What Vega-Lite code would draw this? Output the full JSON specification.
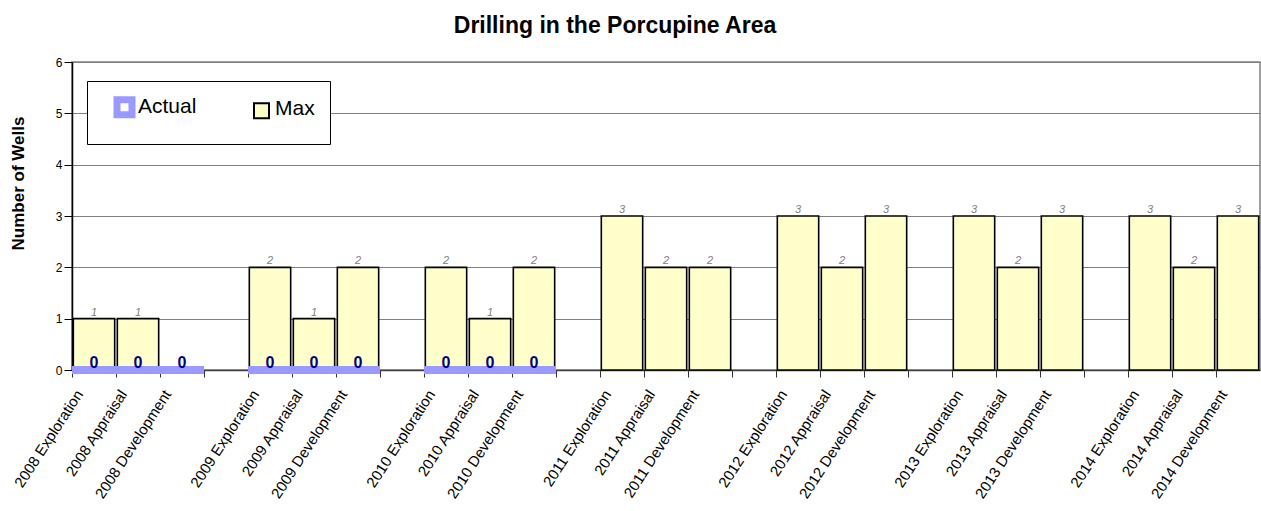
{
  "$schema": "https://vega.github.io/schema/vega-lite/v6.json",
  "width": 1188,
  "height": 308,
  "autosize": {"type": "none"},
  "padding": {"left": 72, "top": 62, "right": 1, "bottom": 141},
  "background": "white",
  "title": {
    "text": "Drilling in the Porcupine Area",
    "font": "Liberation Sans",
    "fontSize": 23,
    "fontWeight": "bold",
    "color": "#000000",
    "frame": "group",
    "anchor": "middle",
    "baseline": "alphabetic",
    "dx": -51,
    "offset": 0
  },
  "data": {
    "values": [
      {"cat": "2008 Exploration", "series": "Max", "value": 1},
      {"cat": "2008 Appraisal", "series": "Max", "value": 1},
      {"cat": "2009 Exploration", "series": "Max", "value": 2},
      {"cat": "2009 Appraisal", "series": "Max", "value": 1},
      {"cat": "2009 Development", "series": "Max", "value": 2},
      {"cat": "2010 Exploration", "series": "Max", "value": 2},
      {"cat": "2010 Appraisal", "series": "Max", "value": 1},
      {"cat": "2010 Development", "series": "Max", "value": 2},
      {"cat": "2011 Exploration", "series": "Max", "value": 3},
      {"cat": "2011 Appraisal", "series": "Max", "value": 2},
      {"cat": "2011 Development", "series": "Max", "value": 2},
      {"cat": "2012 Exploration", "series": "Max", "value": 3},
      {"cat": "2012 Appraisal", "series": "Max", "value": 2},
      {"cat": "2012 Development", "series": "Max", "value": 3},
      {"cat": "2013 Exploration", "series": "Max", "value": 3},
      {"cat": "2013 Appraisal", "series": "Max", "value": 2},
      {"cat": "2013 Development", "series": "Max", "value": 3},
      {"cat": "2014 Exploration", "series": "Max", "value": 3},
      {"cat": "2014 Appraisal", "series": "Max", "value": 2},
      {"cat": "2014 Development", "series": "Max", "value": 3},
      {"cat": "2008 Exploration", "series": "Actual", "value": 0},
      {"cat": "2008 Appraisal", "series": "Actual", "value": 0},
      {"cat": "2008 Development", "series": "Actual", "value": 0},
      {"cat": "2009 Exploration", "series": "Actual", "value": 0},
      {"cat": "2009 Appraisal", "series": "Actual", "value": 0},
      {"cat": "2009 Development", "series": "Actual", "value": 0},
      {"cat": "2010 Exploration", "series": "Actual", "value": 0},
      {"cat": "2010 Appraisal", "series": "Actual", "value": 0},
      {"cat": "2010 Development", "series": "Actual", "value": 0}
    ]
  },
  "encoding": {
    "x": {
      "field": "cat",
      "type": "nominal",
      "scale": {
        "domain": [
          "2008 Exploration", "2008 Appraisal", "2008 Development", "g1",
          "2009 Exploration", "2009 Appraisal", "2009 Development", "g2",
          "2010 Exploration", "2010 Appraisal", "2010 Development", "g3",
          "2011 Exploration", "2011 Appraisal", "2011 Development", "g4",
          "2012 Exploration", "2012 Appraisal", "2012 Development", "g5",
          "2013 Exploration", "2013 Appraisal", "2013 Development", "g6",
          "2014 Exploration", "2014 Appraisal", "2014 Development"
        ],
        "paddingInner": 0.06,
        "paddingOuter": 0.03
      },
      "axis": {
        "title": null,
        "bandPosition": 0,
        "tickOffset": -1,
        "labelOffset": -14,
        "labelExpr": "indexof(datum.label, 'g') === 0 ? '' : datum.label",
        "labelAngle": -57,
        "labelAlign": "right",
        "labelBaseline": "middle",
        "labelFont": "Liberation Sans",
        "labelFontSize": 15,
        "labelColor": "#000000",
        "labelPadding": 14,
        "labelOverlap": false,
        "labelLimit": 300,
        "tickSize": 7,
        "tickColor": "#333333",
        "domainColor": "#404040",
        "domainWidth": 1.5,
        "grid": false
      }
    },
    "y": {
      "field": "value",
      "type": "quantitative",
      "scale": {"domain": [0, 6], "nice": false},
      "axis": {
        "title": "Number of Wells",
        "titleFont": "Liberation Sans",
        "titleFontSize": 17,
        "titleFontWeight": "bold",
        "titleColor": "#000000",
        "titleX": -49,
        "titleY": 121,
        "titleBaseline": "alphabetic",
        "values": [0, 1, 2, 3, 4, 5, 6],
        "labelFont": "Liberation Sans",
        "labelFontSize": 12,
        "labelColor": "#000000",
        "labelPadding": 2,
        "tickSize": 8,
        "tickColor": "#000000",
        "domainColor": "#000000",
        "domainWidth": 1.5,
        "grid": true,
        "gridColor": "#808080",
        "gridWidth": 1
      }
    }
  },
  "layer": [
    {
      "transform": [{"filter": "datum.series === 'Max'"}],
      "mark": {"type": "bar", "stroke": "#000000", "strokeWidth": 1.6},
      "encoding": {
        "fill": {
          "field": "series",
          "type": "nominal",
          "scale": {"domain": ["Actual", "Max"], "range": ["#FFFFFF", "#FFFFCC"]},
          "legend": {
            "title": null,
            "orient": "none",
            "direction": "horizontal",
            "gridAlign": "all",
            "legendX": 15,
            "legendY": 19,
            "padding": 15,
            "strokeColor": "#000000",
            "fillColor": "#FFFFFF",
            "labelFont": "Liberation Sans",
            "labelFontSize": 21,
            "labelColor": "#000000",
            "symbolOffset": 12,
            "labelOffset": 3,
            "columnPadding": 42,
            "symbolType": "square",
            "symbolSize": 225,
            "encoding": {
              "symbols": {
                "y": {"value": {"expr": "(datum.value === 'Max' ? 8 : 11)"}},
                "stroke": {"value": {"expr": "(datum.value === 'Actual' ? '#9999FF' : '#000000')"}},
                "strokeWidth": {"value": {"expr": "(datum.value === 'Actual' ? 7 : 2)"}}
              },
              "labels": {
                "y": {"value": {"expr": "(datum.value === 'Max' ? 6 : 11)"}}
              }
            }
          }
        }
      }
    },
    {
      "transform": [{"filter": "datum.series === 'Max'"}],
      "mark": {
        "type": "text",
        "baseline": "alphabetic",
        "dy": -3,
        "font": "Liberation Sans",
        "fontSize": 11,
        "fontStyle": "italic",
        "color": "#808080"
      },
      "encoding": {"text": {"field": "value", "type": "quantitative"}}
    },
    {
      "transform": [{"filter": "datum.series === 'Actual'"}],
      "mark": {"type": "tick", "thickness": 8, "size": 44, "opacity": 1, "color": "#9999FF"},
      "encoding": {}
    },
    {
      "transform": [{"filter": "datum.series === 'Actual'"}],
      "mark": {
        "type": "text",
        "baseline": "alphabetic",
        "dy": -2,
        "font": "Liberation Sans",
        "fontSize": 16,
        "fontWeight": "bold",
        "color": "#000080"
      },
      "encoding": {"text": {"field": "value", "type": "quantitative"}}
    }
  ],
  "config": {
    "view": {"stroke": "#808080", "strokeWidth": 1.5}
  }
}
